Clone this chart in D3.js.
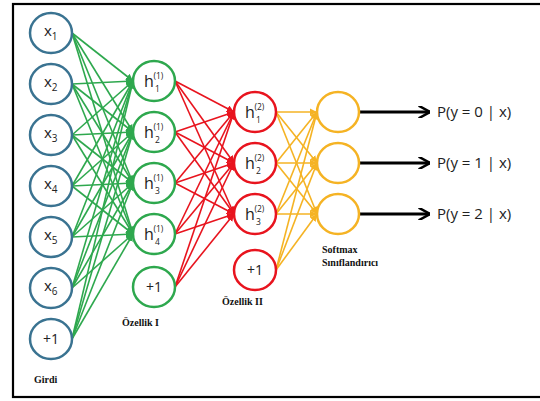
<!DOCTYPE html>
<html><head><meta charset="utf-8">
<script src="https://cdn.jsdelivr.net/npm/d3@7"></script>
<style>body{margin:0;background:#fff}svg{display:block}</style>
</head><body>
<svg id="c" width="540" height="401"></svg>
<script>
// ---- data ----
const inputNodes = [["x","1"],["x","2"],["x","3"],["x","4"],["x","5"],["x","6"],["+1",""]];
const hidden1Nodes = [["h","1"],["h","2"],["h","3"],["h","4"],["+1",""]];
const hidden2Nodes = [["h","1"],["h","2"],["h","3"],["+1",""]];
const softmaxNodes = [["",""],["",""],["",""]];
const hidden1Sup = "(1)";
const hidden2Sup = "(2)";
const outputLabels = ["P(y = 0 | x)","P(y = 1 | x)","P(y = 2 | x)"];
const layerNames = ["input","hidden1","hidden2","softmax"];
const layerTitles = [["Girdi"],["Özellik I"],["Özellik II"],["Softmax","Sınıflandırıcı"]];

// ---- layout ----
const svg = d3.select("#c");
const R = 21;
const xLayer = d3.scaleOrdinal().domain(layerNames).range([51,154,255,338]);
const yStart = d3.scaleOrdinal().domain(layerNames).range([33,81,112,112]);
const yStep = d3.scaleLinear().domain([0,1]).range([0,51]);
const biasExtra = d3.scaleOrdinal().domain(layerNames).range([0,2,5,0]);
const strokeCol = d3.scaleOrdinal().domain(layerNames).range(["#3a7391","#2ea84e","#e8141e","#f5b324"]);
const edgeCol = d3.scaleOrdinal().domain(layerNames).range(["#2ea84e","#e8141e","#f5b324","#000"]);

const layers = [
  {name:"input", nodes:inputNodes, sup:""},
  {name:"hidden1", nodes:hidden1Nodes, sup:hidden1Sup},
  {name:"hidden2", nodes:hidden2Nodes, sup:hidden2Sup},
  {name:"softmax", nodes:softmaxNodes, sup:""}
];
layers.forEach(L=>{
  L.pos = L.nodes.map((n,i)=>({
    x:xLayer(L.name),
    y:yStart(L.name)+yStep(i)+(n[0]==="+1"?biasExtra(L.name):0),
    label:n[0], sub:n[1], bias:n[0]==="+1"
  }));
});

// border
svg.append("rect").attr("x",13).attr("y",4).attr("width",540).attr("height",393)
  .attr("fill","none").attr("stroke","#000").attr("stroke-width",2.2);

// markers
const defs = svg.append("defs");
layerNames.forEach(n=>{
  const c = edgeCol(n);
  defs.append("marker").attr("id","m-"+n).attr("viewBox","0 0 10 10")
    .attr("refX",10).attr("refY",5)
    .attr("markerWidth", n==="softmax"?4.2:4.5).attr("markerHeight", n==="softmax"?4.2:4.5)
    .attr("markerUnits","strokeWidth").attr("orient","auto")
    .append("path").attr("d", n==="softmax" ? "M1,0 L10,5 L1,10" : "M0,0 L10,5 L0,10 Z")
    .attr("fill", n==="softmax"?"none":c).attr("stroke", n==="softmax"?c:"none")
    .attr("stroke-width", n==="softmax"?2:0);
});

// edges
const gE = svg.append("g");
for (let l=0;l<3;l++){
  const A = layers[l], B = layers[l+1];
  A.pos.forEach(s=>{
    B.pos.filter(t=>!t.bias).forEach(t=>{
      gE.append("line").attr("x1",s.x+R).attr("y1",s.y).attr("x2",t.x-R).attr("y2",t.y)
        .attr("stroke",edgeCol(A.name)).attr("stroke-width",1.6)
        .attr("marker-end","url(#m-"+A.name+")");
    });
  });
}
// output arrows
const sm = layers[3].pos;
sm.forEach((s,i)=>{
  gE.append("line").attr("x1",s.x+R).attr("y1",s.y).attr("x2",430).attr("y2",s.y)
    .attr("stroke","#000").attr("stroke-width",3).attr("marker-end","url(#m-softmax)");
  svg.append("text").attr("x",437).attr("y",s.y+5).attr("font-family","Open Sans, sans-serif")
    .attr("font-size",15).attr("fill","#222").text(outputLabels[i]);
});

// nodes
layers.forEach(L=>{
  const g = svg.append("g");
  L.pos.forEach(p=>{
    g.append("ellipse").attr("cx",p.x).attr("cy",p.y).attr("rx",R).attr("ry",R-1)
      .attr("fill","#fff").attr("stroke",strokeCol(L.name)).attr("stroke-width",2.5);
    if (!p.label) return;
    if (p.bias){
      g.append("text").attr("x",p.x).attr("y",p.y+5).attr("text-anchor","middle")
        .attr("font-family","Open Sans, sans-serif").attr("font-size",14).attr("fill","#222").text("+1");
    } else if (L.name==="input"){
      const t = g.append("text").attr("x",p.x-7).attr("y",p.y+3)
        .attr("font-family","Open Sans, sans-serif").attr("font-size",15).attr("fill","#222");
      t.append("tspan").text(p.label);
      t.append("tspan").attr("dy",4).attr("font-size",10).text(p.sub);
    } else {
      g.append("text").attr("x",p.x-10).attr("y",p.y+6)
        .attr("font-family","Open Sans, sans-serif").attr("font-size",16).attr("fill","#222").text(p.label);
      g.append("text").attr("x",p.x-0.5).attr("y",p.y-2)
        .attr("font-family","Open Sans, sans-serif").attr("font-size",8.5).attr("fill","#222").text(L.sup);
      g.append("text").attr("x",p.x+1).attr("y",p.y+11)
        .attr("font-family","Open Sans, sans-serif").attr("font-size",8.5).attr("fill","#222").text(p.sub);
    }
  });
});

// layer titles
const titlePos = {input:[34,383], hidden1:[122,326], hidden2:[222,305], softmax:[322,253]};
layers.forEach((L,i)=>{
  layerTitles[i].forEach((t,j)=>{
    svg.append("text").attr("x",titlePos[L.name][0]).attr("y",titlePos[L.name][1]+j*13)
      .attr("font-family","Liberation Serif, serif").attr("font-weight","bold")
      .attr("font-size",10).attr("fill","#111").text(t);
  });
});
</script>
</body></html>
